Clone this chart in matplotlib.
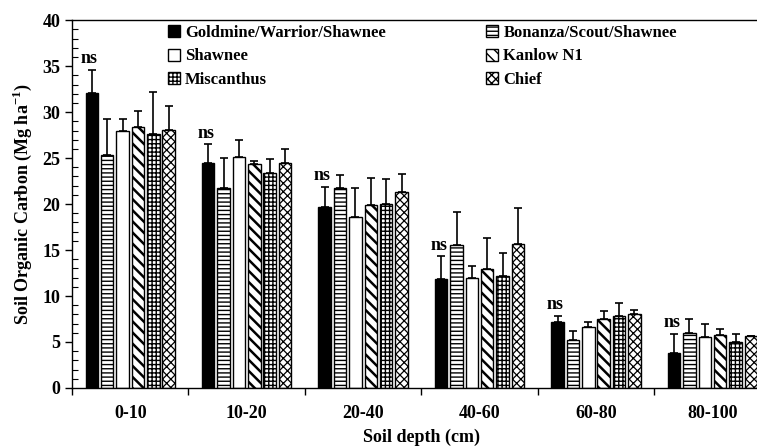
import matplotlib.pyplot as plt
import matplotlib as mpl
import numpy as np

mpl.rcParams['font.family'] = 'Liberation Serif'
mpl.rcParams['font.weight'] = 'bold'
mpl.rcParams['font.size'] = 13
mpl.rcParams['mathtext.fontset'] = 'custom'
mpl.rcParams['mathtext.rm'] = 'Liberation Serif:bold'

depths = ['0-10', '10-20', '20-40', '40-60', '60-80', '80-100']
cultivars = ['Goldmine/Warrior/Shawnee', 'Bonanza/Scout/Shawnee', 'Shawnee',
             'Kanlow N1', 'Miscanthus', 'Chief']

# mean SOC per depth, one list per cultivar
goldmine = [32.1, 24.5, 19.7, 11.8, 7.2, 3.8]
bonanza = [25.3, 21.7, 21.8, 15.5, 5.2, 6.0]
shawnee = [27.9, 25.1, 18.6, 12.0, 6.6, 5.5]
kanlow = [28.4, 24.4, 19.9, 12.9, 7.5, 5.8]
miscanthus = [27.6, 23.4, 20.0, 12.2, 7.8, 5.0]
chief = [28.1, 24.5, 21.3, 15.7, 8.0, 5.7]

# upper error (SD)
goldmine_err = [2.5, 2.0, 2.2, 2.5, 0.6, 2.1]
bonanza_err = [3.9, 3.3, 1.4, 3.6, 1.0, 1.5]
shawnee_err = [1.4, 1.9, 3.2, 1.3, 0.6, 1.5]
kanlow_err = [1.7, 0.3, 2.9, 3.4, 0.9, 0.6]
miscanthus_err = [4.6, 1.5, 2.7, 2.5, 1.4, 0.9]
chief_err = [2.6, 1.5, 2.0, 3.9, 0.5, 0.0]

means = [goldmine, bonanza, shawnee, kanlow, miscanthus, chief]
errs = [goldmine_err, bonanza_err, shawnee_err, kanlow_err, miscanthus_err, chief_err]
colors = ['black', 'white', 'white', 'white', 'white', 'white']
hatches = [None, '----', None, '\\\\\\', '++++', 'xxxx']
hatch_lw = [1.0, 1.0, 1.0, 1.8, 1.0, 0.9]

fig = plt.figure(figsize=(7.57, 4.48), dpi=100)
ax = fig.add_axes([0.0951, 0.134, 0.923, 0.821])

x = np.arange(len(depths))
pitch = 0.132
width = 0.107
bars = []
for i in range(6):
    pos = x + (i - 2.5) * pitch
    with mpl.rc_context({'hatch.linewidth': hatch_lw[i]}):
        b = ax.bar(pos, means[i], width, color=colors[i], edgecolor='black', linewidth=1,
                   hatch=hatches[i], label=cultivars[i], zorder=2)
    bars.append(b)
    ax.errorbar(pos, means[i], yerr=[np.zeros(6), errs[i]], fmt='none',
                ecolor='black', elinewidth=1.2, capsize=3, capthick=1.2, zorder=3)

# "ns" above the first bar of each depth
for j in range(6):
    ax.text(x[j] - 2.5 * pitch - 0.02, goldmine[j] + goldmine_err[j] + 0.3, 'ns',
            ha='center', va='bottom', fontweight='bold', fontsize=13)

ax.set_xlim(-0.5, 5.5)
ax.set_ylim(0, 40)
ax.set_yticks(np.arange(0, 41, 5))
ax.set_yticks(np.arange(0, 41, 1), minor=True)
ax.tick_params(axis='y', which='major', direction='out', length=5, width=1, labelsize=13)
ax.tick_params(axis='y', which='minor', direction='in', length=4, width=0.8)

ax.set_xticks(np.arange(-0.5, 6, 1))
ax.set_xticklabels([])
ax.set_xticks(x, minor=True)
ax.set_xticklabels(depths, minor=True)
ax.tick_params(axis='x', which='major', direction='out', length=5, width=1)
ax.tick_params(axis='x', which='minor', length=0, pad=12, labelsize=13)

ax.set_xlabel('Soil depth (cm)', fontweight='bold', labelpad=5)
ax.set_ylabel('Soil Organic Carbon (Mg ha$^{-1}$)', fontweight='bold', labelpad=6)

for s in ax.spines.values():
    s.set_linewidth(1)

# row-major legend order
order = [0, 2, 4, 1, 3, 5]
ax.legend([bars[k] for k in order], [cultivars[k] for k in order],
          loc='upper left', bbox_to_anchor=(0.137, 0.987), ncol=2, frameon=False,
          borderpad=0, borderaxespad=0,
          handlelength=0.75, handleheight=0.75, handletextpad=0.3, columnspacing=6.0,
          labelspacing=0.45, prop={'weight': 'bold', 'size': 12})

fig.savefig('out.png', dpi=100)
